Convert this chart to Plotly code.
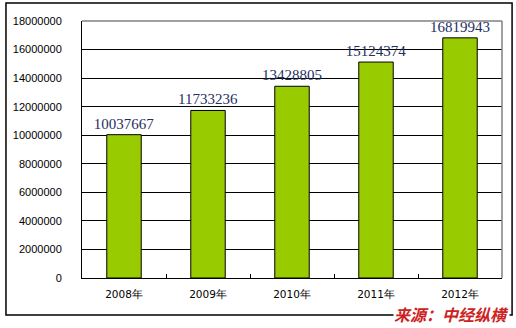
import plotly.graph_objects as go

years = ["2008年", "2009年", "2010年", "2011年", "2012年"]
values = [10037667, 11733236, 13428805, 15124374, 16819943]
y_ticks = [0, 2000000, 4000000, 6000000, 8000000, 10000000, 12000000, 14000000, 16000000, 18000000]

fig = go.Figure()
fig.add_trace(go.Bar(
    x=years, y=values,
    marker=dict(color="#99CC00", line=dict(color="black", width=1)),
    width=0.41,
    text=[str(v) for v in values],
    textposition="outside",
    constraintext="none",
    textfont=dict(family="Liberation Serif", size=15, color="#1F2F5F"),
    cliponaxis=False,
))

fig.update_layout(
    width=516, height=328,
    margin=dict(l=82, r=14, t=21, b=50, autoexpand=False),
    paper_bgcolor="white", plot_bgcolor="white",
    showlegend=False,
    bargap=0.59,
    xaxis=dict(
        showline=True, linecolor="black", linewidth=1,
        ticks="inside", tickson="boundaries", ticklen=4, tickcolor="black",
        tickfont=dict(family="DejaVu Sans", size=10.5, color="black"),
        showgrid=False, mirror=False, ticklabelstandoff=6, automargin=False,
    ),
    yaxis=dict(
        range=[0, 18000000], tickvals=y_ticks, ticktext=[str(v) for v in y_ticks],
        showline=True, linecolor="black", linewidth=1,
        showgrid=True, gridcolor="black", gridwidth=1,
        tickfont=dict(family="Liberation Sans", size=11, color="black"),
        ticks="", ticklabelstandoff=17, zeroline=False, automargin=False,
    ),
    shapes=[
        dict(type="rect", xref="paper", yref="paper", x0=-0.181, x1=1.024, y0=-0.144, y1=1.07,
             line=dict(color="black", width=1.5), fillcolor="rgba(0,0,0,0)", layer="below"),
        dict(type="line", xref="paper", yref="paper", x0=0, x1=1, y0=1, y1=1,
             line=dict(color="#808080", width=1.5), layer="above"),
        dict(type="line", xref="paper", yref="paper", x0=1, x1=1, y0=0, y1=1,
             line=dict(color="#808080", width=1.5), layer="above"),
    ],
    annotations=[
        dict(text="<b><i>来源：中经纵横</i></b>", xref="paper", yref="paper", x=1.02, y=-0.14,
             xanchor="right", yanchor="middle", showarrow=False, bgcolor="white",
             borderpad=0,
             font=dict(family="Noto Sans CJK SC", size=16, color="#CC2222")),
    ],
)

fig.write_html("out.html")
